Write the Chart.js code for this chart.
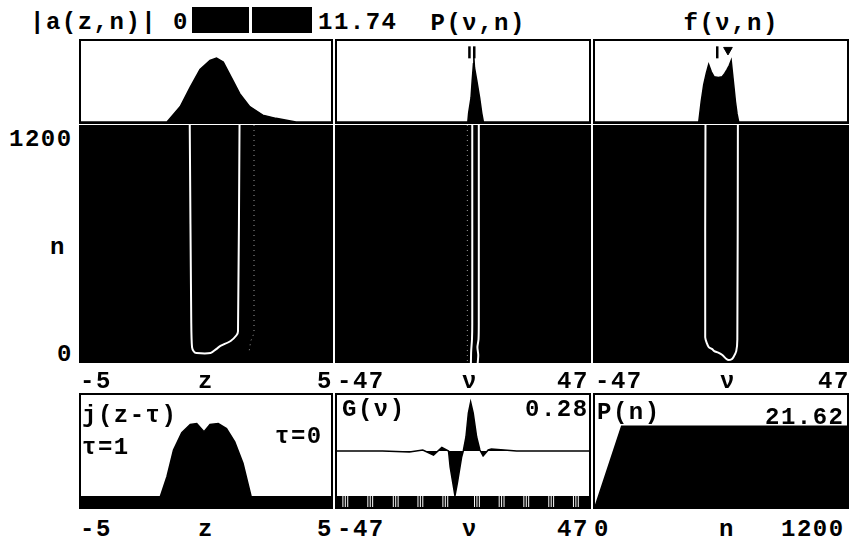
<!DOCTYPE html>
<html>
<head>
<meta charset="utf-8">
<script src="https://cdn.jsdelivr.net/npm/chart.js@4"></script>
<style>
  body { margin: 0; background: #fff; }
  #stage { position: relative; width: 850px; height: 540px; overflow: hidden; }
  .box { position: absolute; }
  .lbl {
    position: absolute; font-family: "Liberation Mono", "DejaVu Sans Mono", monospace;
    font-weight: bold; font-size: 24px; letter-spacing: 1.5px; color: #000;
    white-space: nowrap; line-height: 24px; transform: translateY(-50%);
  }
  #cbar { position: absolute; left: 192px; top: 7px; width: 120px; height: 26px; background: #000; }
  #cbar i { position: absolute; left: 57px; top: 0; width: 3px; height: 26px; background: #fff; }
</style>
</head>
<body>
<div id="stage">
  <div id="cbar"><i></i></div>
</div>
<script>
// top row: |a(z)| at the last step, spectra P(nu), f(nu)
const ampZ   = [-5, -1.56, -1.03, -0.63, -0.24, 0.16, 0.42, 0.69, 1.08, 1.35, 1.75, 2.27, 2.8, 3.33, 3.6, 5];
const ampVal = [0, 0, 0.19, 0.43, 0.65, 0.76, 0.79, 0.74, 0.51, 0.35, 0.19, 0.085, 0.045, 0.015, 0, 0];

const specNu  = [-47, 1.8, 2.1, 3.0, 3.4, 3.9, 4.05, 4.3, 5.2, 6.2, 7.0, 7.6, 47];
const specVal = [0, 0, 0.11, 0.3, 0.5, 0.72, 0.8, 0.67, 0.5, 0.3, 0.11, 0, 0];

const filtNu  = [-47, -8.3, -7.4, -6.45, -5.5, -4.6, -3.6, -2.6, -1.0, 0.45, 1.4, 2.3, 3.1, 3.8, 4.75, 5.4, 6.0, 6.6, 47];
const filtVal = [0, 0, 0.25, 0.46, 0.6, 0.71, 0.62, 0.56, 0.55, 0.56, 0.6, 0.65, 0.7, 0.76, 0.46, 0.25, 0.1, 0, 0];

// marks above the spectra
const specMarkNu = [2.4, 4.2];
const filtBarNu = -1.4;
const filtTriNu = 2.6;

// middle row: contour of each map, (x, n)
const contAZ = [-0.64, -0.58, -0.55, -0.48, -0.38, 0.18, 0.4, 0.57, 0.97, 1.2, 1.26, 1.32];
const contAN = [1200, 200, 80, 58, 50, 50, 70, 86, 111, 140, 160, 1200];
const faintAZ = [1.89, 1.89, 1.76, 1.7];
const faintAN = [1200, 150, 110, 60];

const contPNu = [3.4, 3.4, 3.3, 3.0, 2.9];
const contPN  = [1200, 200, 120, 60, 0];
const contPNu2 = [5.8, 5.8, 5.7, 5.3, 5.6, 5.4];
const contPN2  = [1200, 200, 120, 80, 40, 0];
const faintPNu = [1.6, 1.6];
const faintPN  = [1200, 0];

const contFNu = [-5.7, -5.8, -5.2, -4.5, -3.2, -2.5, -1.0, 0.5, 2.0, 2.8, 4.0, 4.6, 5.6, 6.0, 6.2];
const contFN  = [1200, 130, 100, 80, 70, 60, 52, 40, 20, 15, 20, 30, 60, 120, 1200];

// bottom row
const jZ   = [-5, -1.83, -1.56, -1.3, -0.97, -0.63, -0.37, -0.08, 0.16, 0.49, 0.82, 1.15, 1.48, 1.81, 5];
const jVal = [0, 0, 0.2, 0.46, 0.63, 0.71, 0.72, 0.64, 0.71, 0.72, 0.67, 0.54, 0.33, 0, 0];

const gNu  = [-47, -30, -20, -15, -11, -7.9, -5.4, -4.8, -3.8, -3.0, -2.1, -0.5, 0.1, 1.1, 2.0, 2.85, 3.8, 5.1, 6.3, 7.5, 9.4, 10.6, 20, 47];
const gVal = [0, 0, -0.005, 0.005, -0.02, 0.018, 0, -0.08, -0.16, -0.225, -0.16, -0.03, 0, 0.07, 0.19, 0.245, 0.19, 0.07, 0.005, -0.025, 0.005, 0.01, 0, 0];
const gTicks = [-44.8, -43.9, -43.0, -35.5, -34.6, -33.7, -26.0, -25.1, -24.2, -16.8, -15.9, -15.0,
  -7.5, -6.6, -5.7, 4.3, 5.2, 6.1, 13.5, 14.4, 15.3, 22.7, 23.6, 24.5, 32.0, 32.9, 33.8, 41.2, 42.1, 43.0];

const powN   = [0, 127, 1200];
const powVal = [0, 21.62, 21.62];

const pts = (xs, ys) => xs.map((x, i) => ({ x: x, y: ys[i] }));

const frame = {
  id: "frame",
  beforeDraw(chart, args, o) {
    if (!o.bg) return;
    const c = chart.ctx;
    c.save(); c.fillStyle = o.bg; c.fillRect(0, 0, chart.width, chart.height); c.restore();
  },
  afterDraw(chart, args, o) {
    if (!o.border) return;
    const c = chart.ctx;
    c.save(); c.strokeStyle = "#000"; c.lineWidth = 2;
    c.strokeRect(1, 1, chart.width - 2, chart.height - 2); c.restore();
  }
};

const stage = document.getElementById("stage");

function panel(left, top, w, h, xr, yr, datasets, dark) {
  const box = document.createElement("div");
  box.className = "box";
  box.style.cssText = `left:${left}px;top:${top}px;width:${w}px;height:${h}px`;
  const cv = document.createElement("canvas");
  cv.width = w; cv.height = h;
  box.appendChild(cv);
  stage.appendChild(box);
  return new Chart(cv, {
    type: "line",
    data: { datasets: datasets },
    options: {
      responsive: false, animation: false,
      layout: { padding: dark ? 0 : 2, autoPadding: false },
      plugins: { legend: { display: false }, tooltip: { enabled: false },
        frame: { bg: dark ? "#000" : null, border: !dark } },
      scales: {
        x: { type: "linear", display: false, min: xr[0], max: xr[1] },
        y: { display: false, min: yr[0], max: yr[1] }
      },
      elements: { point: { radius: 0 }, line: { tension: 0 } }
    },
    plugins: [frame]
  });
}

const area = (d) => ({ data: d, borderColor: "#000", borderWidth: 1.5, backgroundColor: "#000", fill: "origin" });
const wline = (d) => ({ data: d, borderColor: "#fff", borderWidth: 2, fill: false, tension: 0.25 });
const dots = (d) => ({ data: d, borderColor: "#9a9a9a", borderWidth: 1, borderDash: [1, 4], fill: false });

// top row
panel(79, 39, 254, 85, [-5, 5], [0, 1], [area(pts(ampZ, ampVal))]);
panel(335, 39, 256, 85, [-47, 47], [0, 1], [
  area(pts(specNu, specVal)),
  { type: "scatter", data: specMarkNu.map(x => ({ x: x, y: 0.86 })), pointStyle: "line", rotation: 90,
    pointRadius: 6, borderColor: "#000", borderWidth: 2.5, clip: false }
]);
panel(593, 39, 256, 85, [-47, 47], [0, 1], [
  area(pts(filtNu, filtVal)),
  { type: "scatter", data: [{ x: filtBarNu, y: 0.86 }], pointStyle: "line", rotation: 90,
    pointRadius: 6, borderColor: "#000", borderWidth: 2.5, clip: false },
  { type: "scatter", data: [{ x: filtTriNu, y: 0.89 }], pointStyle: "triangle", rotation: 180,
    pointRadius: 5, borderColor: "#000", backgroundColor: "#000", borderWidth: 1, clip: false }
]);

// middle row
panel(79, 125, 254, 238, [-5, 5], [0, 1200], [dots(pts(faintAZ, faintAN)), wline(pts(contAZ, contAN))], true);
panel(335, 125, 256, 238, [-47, 47], [0, 1200], [
  dots(pts(faintPNu, faintPN)), wline(pts(contPNu, contPN)), wline(pts(contPNu2, contPN2))
], true);
panel(593, 125, 256, 238, [-47, 47], [0, 1200], [wline(pts(contFNu, contFN))], true);

// bottom row
panel(79, 393, 254, 116, [-5, 5], [-0.1, 1], [
  { data: pts(jZ, jVal), borderColor: "#000", borderWidth: 1.5, backgroundColor: "#000", fill: "start" }
]);
panel(335, 393, 256, 116, [-47, 47], [-0.28, 0.28], [
  { type: "scatter", data: gTicks.map(x => ({ x: x, y: -0.2525 })), pointStyle: "line", rotation: 90,
    pointRadius: 5.5, borderColor: "#fff", borderWidth: 1, order: 0 },
  area(pts(gNu, gVal)),
  { data: [{ x: -47, y: -0.225 }, { x: 47, y: -0.225 }], borderWidth: 0, backgroundColor: "#000", fill: "start", order: 2 }
]);
panel(593, 393, 256, 116, [0, 1200], [0, 30], [area(pts(powN, powVal))]);

// text
function label(text, x, y, anchor) {
  const d = document.createElement("div");
  d.className = "lbl";
  d.textContent = text;
  stage.appendChild(d);
  const w = d.offsetWidth;
  const lx = anchor === "r" ? x - w : anchor === "c" ? x - w / 2 : x;
  d.style.left = lx + "px";
  d.style.top = y + "px";
}

label("|a(z,n)|", 30, 23, "l");
label("0", 173, 23, "l");
label("11.74", 318, 23, "l");
label("P(ν,n)", 478, 24, "c");
label("f(ν,n)", 731, 24, "c");

label("1200", 73, 140, "r");
label("n", 58, 248, "c");
label("0", 73, 355, "r");

const axisRows = [382, 530];
axisRows.forEach((y, k) => {
  label("-5", 80, y, "l"); label("z", 206, y, "c"); label("5", 333, y, "r");
  label("-47", 337, y, "l"); label("ν", 470, y, "c"); label("47", 589, y, "r");
});
label("-47", 595, 382, "l"); label("ν", 728, 382, "c"); label("47", 850, 382, "r");
label("0", 594, 530, "l"); label("n", 727, 530, "c"); label("1200", 845, 530, "r");

label("j(z-τ)", 82, 416, "l");
label("τ=1", 82, 448, "l");
label("τ=0", 323, 437, "r");
label("G(ν)", 342, 410, "l");
label("0.28", 589, 410, "r");
label("P(n)", 597, 413, "l");
label("21.62", 845, 418, "r");
</script>
</body>
</html>
